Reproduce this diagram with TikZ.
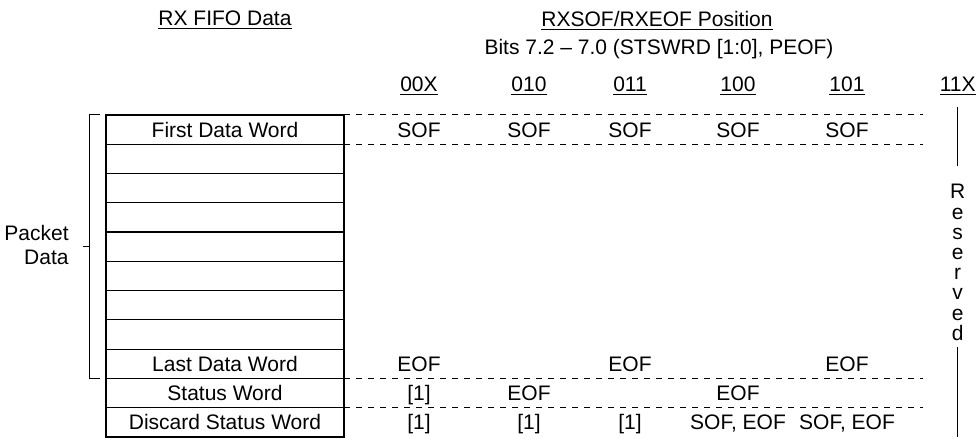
\documentclass[tikz,border=0pt]{standalone}
\usepackage{fontspec}
\setmainfont{Liberation Sans}
\usetikzlibrary{calc}
\tikzset{fifo/.style = {draw, line width=0.6pt, minimum width=119pt, minimum height=14.635pt,
                        inner sep=0pt, outer sep=0pt},
         cell/.style = {inner sep=0pt, text height=7.5pt, text depth=0pt},
         head/.style = {anchor=base, inner sep=0pt},
         dashline/.style = {line width=0.5pt, dash pattern=on 3pt off 3pt}}

\begin{document}
\begin{tikzpicture}[x=0.5pt, y=-0.5pt, font=\fontsize{10.5}{12}\selectfont]
  \useasboundingbox (0, 0) rectangle (979, 438);

  \node [head] (fifohead) at (225, 25.7) {\underline{RX FIFO Data}};
  \node [head] (poshead) at (657, 26.5) {\underline{RXSOF/RXEOF Position}};
  \node [head] (bitshead) at (659, 55) {Bits 7.2 -- 7.0 (STSWRD [1:0], PEOF)};
  \foreach \x/\c [count=\i] in {419/00X, 529/010, 630/011, 738/100, 847/101, 957.7/11X}
    \node [head] (col\i) at (\x, 91.7) {\underline{\c}};

  % fifo words
  \foreach \t [count=\i] in {First Data Word, {}, {}, {}, {}, {}, {}, {}, Last Data Word, Status Word, Discard Status Word}
    \node [fifo] (row\i) at (225, {115 + (\i - 0.5)*29.27}) {\t};
  \draw [line width=1pt] (row1.north west) rectangle (row11.south east);

  % packet bracket
  \draw [line width=0.5pt] ([xshift=-3.25pt]row1.north west) -- ++(-5pt, 0) coordinate (btop)
        -- (btop |- row9.south west) coordinate (bbot) -- ++(5pt, 0);
  \node [align=right, anchor=east, inner sep=0pt] (packet) at (69, 245) {Packet\\Data};
  \draw [line width=0.5pt] ($(btop)!0.5!(bbot)$) -- ++(-3.5pt, 0);

  \coordinate (dend) at (923, 0);
  \foreach \r/\a in {1/north, 1/south, 10/north, 10/south}
    \draw [dashline] (row\r.\a -| row\r.east) -- (row\r.\a -| dend);

  \foreach \r/\c/\t [count=\i] in {1/1/SOF, 1/2/SOF, 1/3/SOF, 1/4/SOF, 1/5/SOF,
                                  9/1/EOF, 9/3/EOF, 9/5/EOF,
                                  10/1/[1], 10/2/EOF, 10/4/EOF,
                                  11/1/[1], 11/2/[1], 11/3/[1], 11/4/{SOF, EOF}, 11/5/{SOF, EOF}}
    \node [cell] (lbl\i) at (col\c |- row\r) {\t};

  % reserved column
  \node [inner sep=0pt, align=center, font=\fontsize{10.5}{10.1}\selectfont] (rsv) at (957.7, 262.5)
        {R\\e\\s\\e\\r\\v\\e\\d};
  \coordinate (rtop) at (957.7, 107);
  \draw [line width=0.6pt] (rtop) -- ([yshift=9pt]rsv.north);
  \draw [line width=0.6pt] ([yshift=-3pt]rsv.south) -- (rsv |- row11.south);
\end{tikzpicture}
\end{document}
